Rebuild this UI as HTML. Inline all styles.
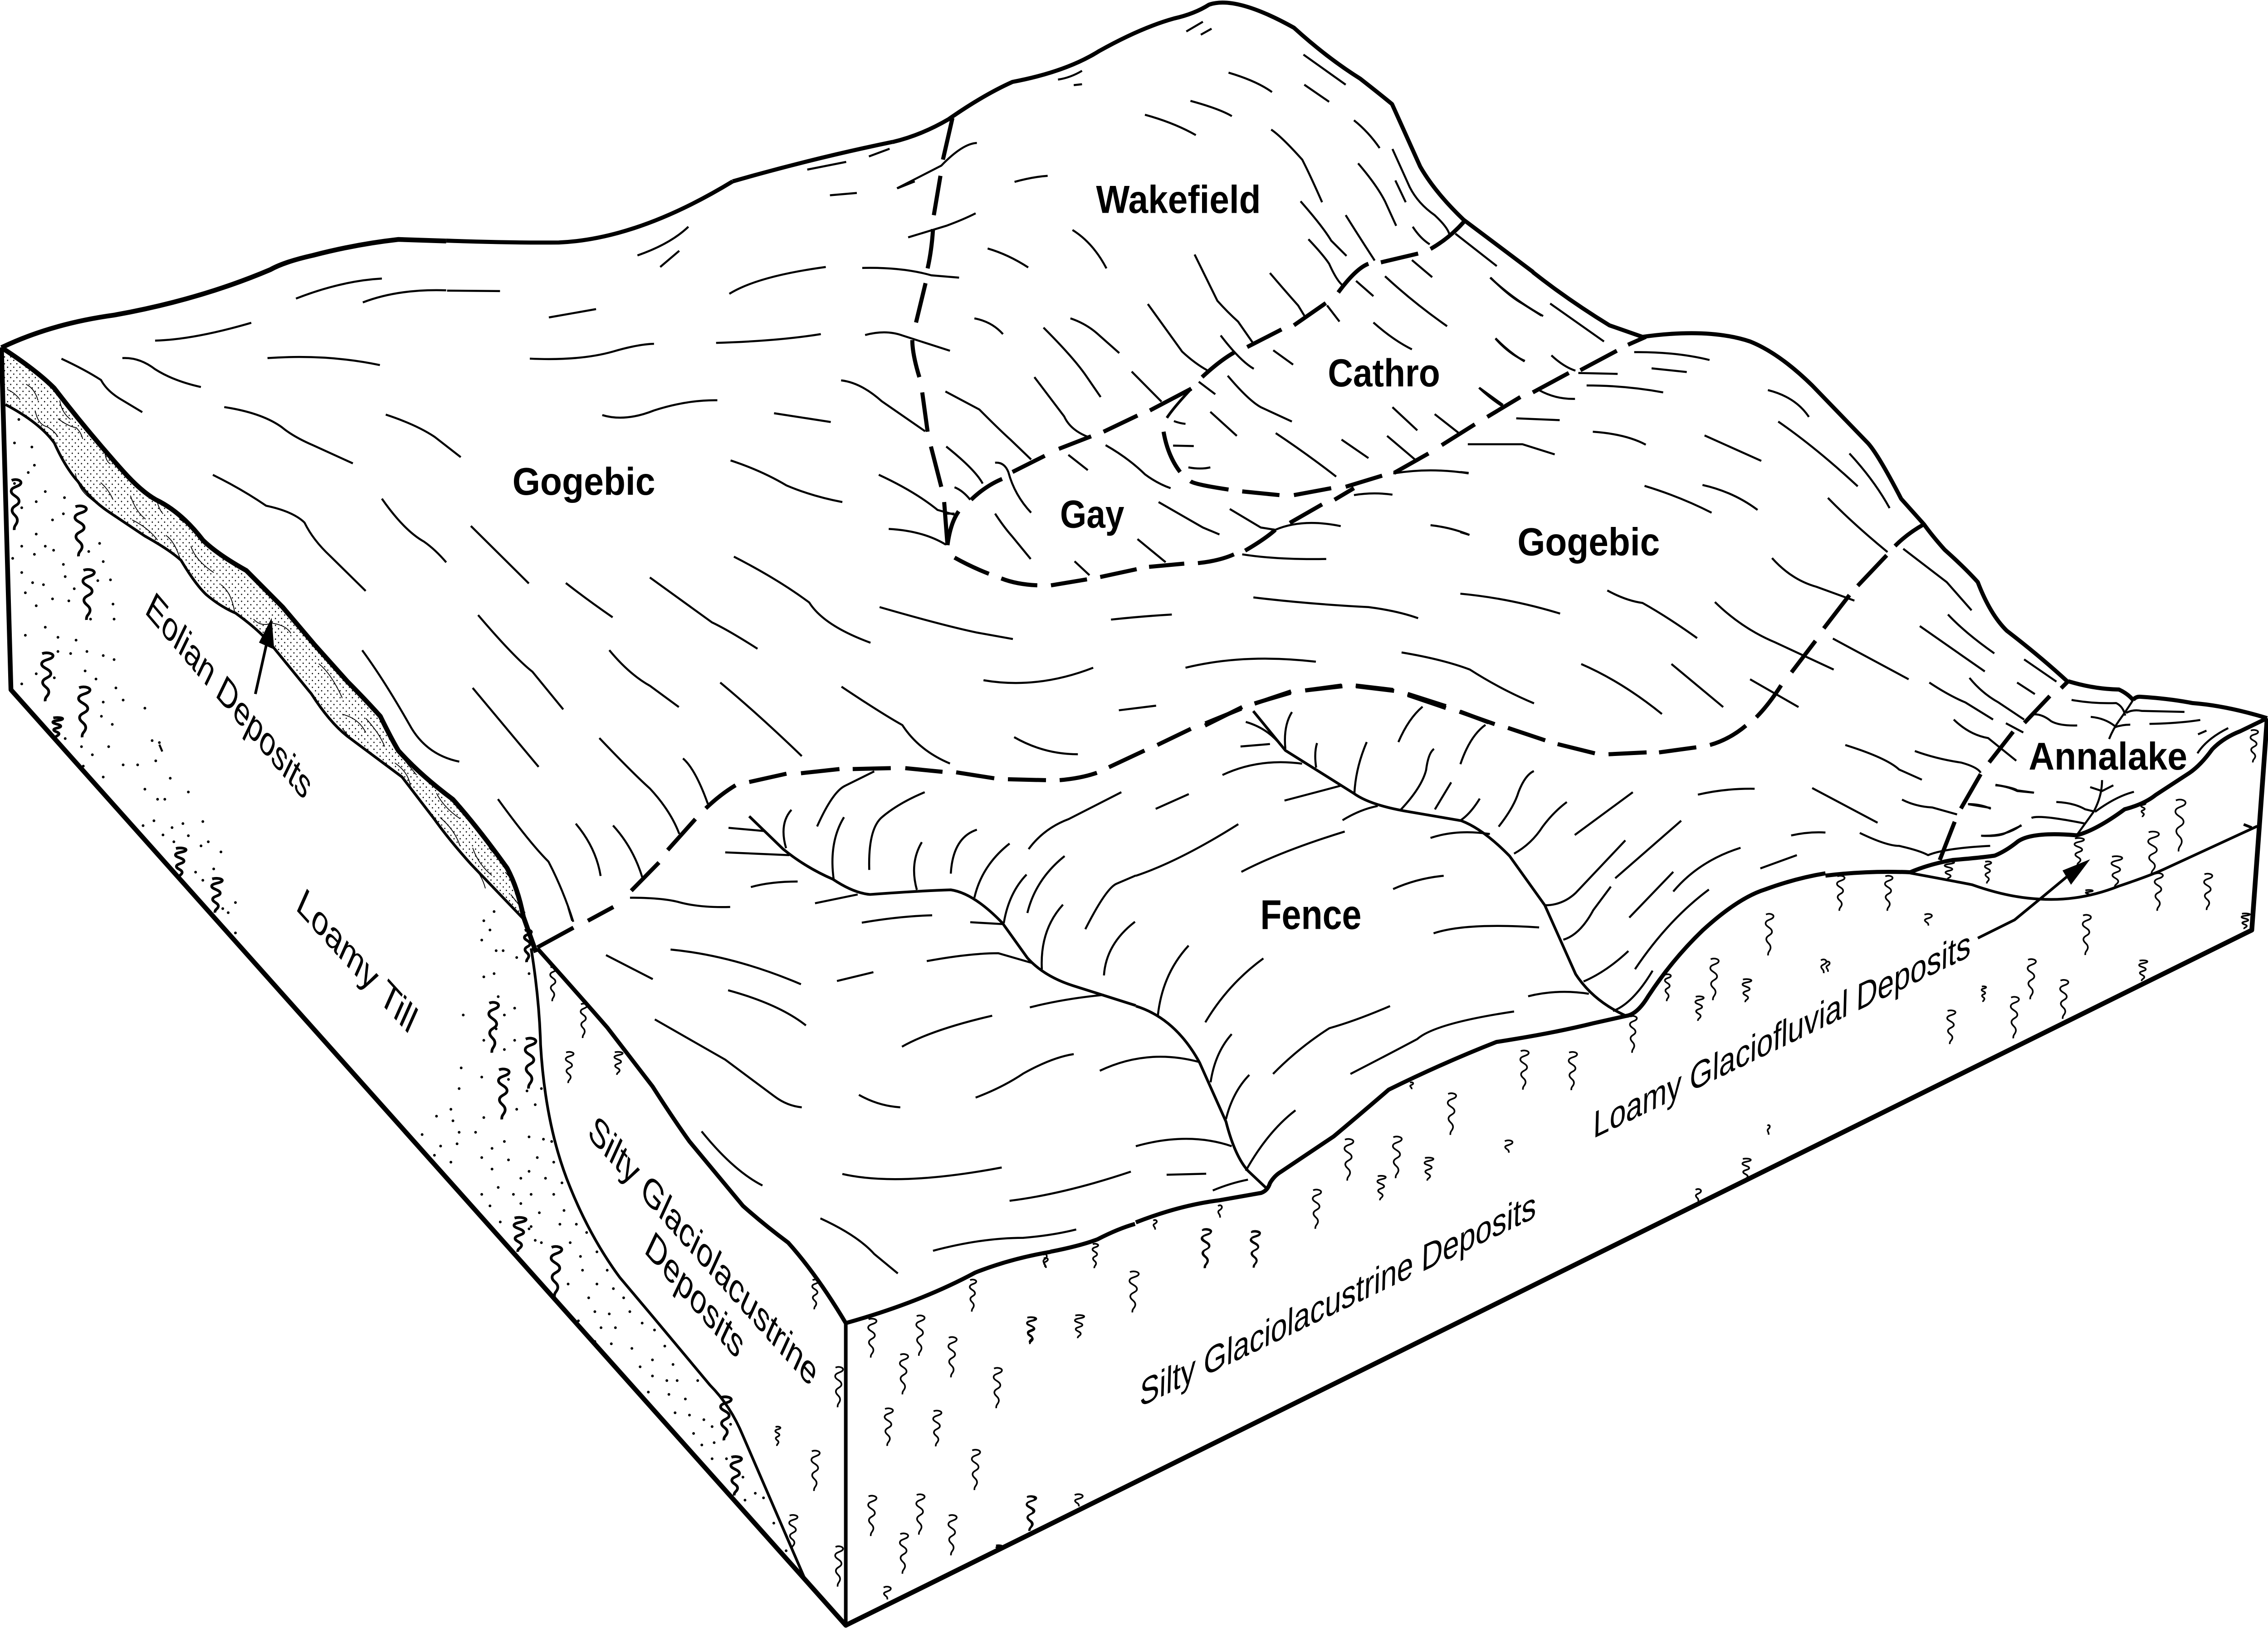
<!DOCTYPE html>
<html><head><meta charset="utf-8"><title>Block diagram</title>
<style>
html,body{margin:0;padding:0;background:#fff;width:100%;height:100%;overflow:hidden}
svg{display:block;width:100vw;height:100vh}
path{fill:none;stroke:#000;stroke-linejoin:round;vector-effect:non-scaling-stroke}
.l{stroke-width:4.5}.o{stroke-width:9}.O{stroke-width:10.5}.v{stroke-width:6}.d{stroke-width:9}.t{stroke-width:1.8}
.s use{stroke-width:3.6}.s{stroke-width:3.6}.S{stroke-width:6}
.p{stroke-width:6;stroke-linecap:round}
.f{fill:#000;stroke:none}
text{font-family:"Liberation Sans",sans-serif;fill:#000}
.b{font-weight:bold;font-size:85px}
.n{font-size:76px}
</style></head><body>
<svg xmlns="http://www.w3.org/2000/svg" viewBox="0 0 5591 3590" preserveAspectRatio="none">
<defs>
<path id="q" d="M6 2C16-2 30 2 27 8 24 15 4 14 5 24 6 32 24 34 23 44 22 52 6 52 7 62 8 70 20 72 19 82 18 90 11 90 12 100"/>
<path id="r" d="M4 2C12-2 24 1 21 6 18 11 3 11 5 16 7 21 14 20 13 28"/>
<pattern id="st" width="17" height="17" patternUnits="userSpaceOnUse"><circle cx="4" cy="4" r="1.7"/><circle cx="12.5" cy="12.5" r="1.7"/></pattern>
</defs>

<!-- block frame in page coordinates -->
<path class="O" d="M3.5 766L27 1521L2085 3584L5551 2051L5589 1584"/>
<path class="o" d="M1806 400Q2000 350 2200 313"/>
<path class="l" d="M1990 374L2086 357M2142 345L2193 328"/>

<!-- Z9 top-left -->
<g transform="translate(0 300) scale(.7015)">
<path class="O" d="M5 665Q180 590 400 563Q700 515 950 420Q1000 395 1100 375Q1250 340 1400 325L1568 330"/>
<path class="l" d="M545 643Q680 640 883 587M216 700Q300 735 355 767Q375 800 420 825L500 868M430 698Q490 695 545 733Q610 770 706 789M940 698Q1150 685 1335 720M1040 511Q1200 455 1342 448M1275 523Q1400 480 1568 485M788 852Q920 870 990 915Q1030 945 1100 972L1240 1029M748 1065Q850 1110 935 1162Q1030 1180 1070 1215Q1100 1270 1160 1320L1285 1430M1342 1140Q1420 1240 1490 1275Q1530 1300 1568 1340"/>
</g>

<!-- Z1 left face and eolian band -->
<g transform="translate(0 700) scale(.8929)">
<path style="fill:url(#st);stroke:none" d="M5 75Q100 130 150 175Q240 280 340 380Q390 430 430 450Q500 480 560 550Q600 585 680 625Q730 670 780 715L870 810L960 900Q1010 945 1050 985Q1080 1040 1100 1070Q1160 1130 1250 1190Q1320 1260 1400 1360Q1430 1410 1445 1480L1450 1490L1300 1350Q1240 1290 1200 1240Q1170 1205 1110 1135L960 1035Q910 1000 860 930L755 815Q720 775 650 730Q610 715 570 685Q540 660 500 600Q470 575 400 540L300 480Q250 450 215 405Q180 370 150 310Q110 260 15 215Z"/>
<path class="O" d="M5 75Q100 130 150 175Q240 280 340 380Q390 430 430 450Q500 480 560 550Q600 585 680 625Q730 670 780 715L870 810L960 900Q1010 945 1050 985Q1080 1040 1100 1070Q1160 1130 1250 1190Q1320 1260 1400 1360Q1430 1410 1445 1480L1480 1568"/>
<path class="v" d="M15 215Q110 260 150 310Q180 370 215 405Q250 450 300 480L400 540Q470 575 500 600Q540 660 570 685Q610 715 650 730Q720 775 755 815L860 930Q910 1000 960 1035L1110 1135Q1170 1205 1200 1240Q1240 1290 1300 1350L1450 1490"/>
<path class="t" d="M20 178Q40 185 55 203M72 165Q95 175 105 205M165 205Q170 235 195 252M97 230Q105 265 130 270Q150 280 160 295M160 250Q190 270 210 272Q225 285 228 300M290 335Q292 355 305 362M208 385Q215 420 240 440L260 455M278 408Q300 425 312 450M360 440Q375 480 402 498M365 500Q410 520 435 550M458 538Q485 555 500 605M435 458Q440 475 450 485M495 498Q515 510 535 520M527 565Q540 600 590 630M610 660Q640 680 648 730M700 745Q720 765 750 755Q790 760 803 780M880 855Q915 880 945 940M945 980Q990 990 1010 1025M1010 990Q1050 1030 1062 1060M945 1015L970 1042M1000 935Q1020 960 1045 975M1090 1100Q1130 1125 1133 1160M1205 1175Q1225 1210 1270 1238M1215 1235Q1255 1265 1270 1305M1305 1310Q1320 1350 1358 1378M1350 1310L1375 1335M1300 1350Q1330 1375 1340 1410M1395 1370L1405 1380M1410 1425L1450 1470M1105 1080L1150 1130"/>
<path class="l" d="M1065 240Q1150 265 1200 295L1272 345M1300 515L1460 657M1320 735Q1420 840 1470 875L1555 968M1000 822Q1060 895 1130 1005Q1175 1080 1268 1097M1305 915L1487 1110"/>
<path class="p" d="M52 252h.01M40 310h.01M88 320h.01M95 365h.01M78 383h.01M40 410h.01M125 430h.01M100 455h.01M178 445h.01M60 470h.01M145 500h.01M175 485h.01M100 535h.01M60 565h.01M125 565h.01M35 595h.01M95 585h.01M148 575h.01M175 610h.01M60 630h.01M120 660h.01M90 655h.01M145 695h.01M70 680h.01M20 670h.01M100 712h.01M190 700h.01M275 558h.01M245 578h.01M285 603h.01M305 648h.01M270 650h.01M180 640h.01M205 670h.01M312 708h.01M315 745h.01M250 745h.01M235 705h.01M125 765h.01M70 785h.01M160 790h.01M210 797h.01M240 825h.01M195 830h.01M160 825h.01M285 835h.01M315 845h.01M60 905h.01M150 890h.01M100 880h.01M235 873h.01M265 893h.01M320 915h.01M285 950h.01M340 945h.01M400 965h.01M280 985h.01M310 1005h.01M180 1040h.01M255 1080h.01M225 1060h.01M300 1060h.01M340 1105h.01M230 1108h.01M380 1105h.01M430 1095h.01M285 1135h.01M400 1165h.01M470 1138h.01M435 1190h.01M455 1190h.01M520 1172h.01M395 1255h.01M425 1243h.01M475 1260h.01M505 1250h.01M560 1245h.01M450 1278h.01M430 1320h.01M480 1295h.01M520 1280h.01M555 1305h.01M575 1295h.01M610 1320h.01M540 1370h.01M590 1362h.01M560 1390h.01M630 1470h.01M615 1460h.01M650 1445h.01M650 1520h.01M420 1045h.01M440 1050h.01"/>
<g class="S" style="stroke-width:6">
<use href="#q" transform="translate(25 400) scale(1.2 1.25)"/><use href="#q" transform="translate(200 465) scale(1.4 1.25)"/><use href="#q" transform="translate(222 622) scale(1.4 1.25)"/><use href="#q" transform="translate(108 828) scale(1.4 1.2)"/><use href="#q" transform="translate(210 912) scale(1.4 1.25)"/><use href="#q" transform="translate(140 988) scale(1.2 .5)"/><use href="#q" transform="translate(478 1310) scale(1.3 .75)"/><use href="#q" transform="translate(578 1385) scale(1.3 .85)"/>
</g>
<path class="l" style="stroke-width:6" d="M705 930L735 810"/>
<path class="f" d="M750 742L715 803L757 820Z"/>
<path class="l" d="M440 1055L448 1072"/>
</g>

<!-- Z3 Gogebic west -->
<g transform="translate(1000 400) scale(1.0204)">
<path class="o" d="M98 128Q250 133 370 132Q560 125 790 0"/>
<path class="l" d="M560 160Q640 135 683 98M615 185L661 150M100 236L228 237M346 294L460 276M300 383Q420 388 500 368Q560 352 600 351M750 349Q900 345 1003 330M782 243Q850 205 1015 185M1025 30L1090 25M1188 15L1230 0M1110 332Q1160 320 1200 333L1315 366M1103 187Q1200 185 1270 203L1337 208M1052 430Q1100 435 1150 475L1255 540M1143 634Q1230 670 1285 710L1325 720M1167 751Q1250 755 1305 785M475 505Q530 520 600 495Q680 472 753 473M890 501L1027 520M785 603Q860 625 920 657Q980 680 1055 693M387 868Q440 905 500 942M590 856L740 953Q780 970 850 1010M793 811Q900 860 975 910Q1010 960 1123 997M1145 920Q1300 960 1380 975L1467 989M492 1013Q540 1065 590 1090L660 1136M760 1083Q850 1150 957 1242M1053 1092Q1150 1150 1200 1175Q1240 1230 1315 1258M468 1203Q550 1280 590 1312Q640 1360 661 1410M670 1247Q700 1270 730 1345M411 1388Q460 1440 471 1501M501 1392Q550 1440 572 1505M223 1335Q300 1430 345 1470Q380 1530 405 1600"/>
<path class="d" d="M545 1533L612 1472M633 1445L700 1378M725 1355Q760 1325 797 1305M830 1298L920 1280M955 1279L1048 1270M1080 1270L1172 1268"/>
<text class="b" transform="translate(258 677) scale(.98)" textLength="352" lengthAdjust="spacingAndGlyphs">Gogebic</text>
</g>

<!-- Z4 Wakefield Cathro Gay -->
<g transform="translate(2200 0) scale(1.0204)">
<path class="o" d="M0 307Q70 292 135 258Q220 205 290 177Q420 155 500 110Q600 60 680 40Q730 30 765 10Q830-10 970 60Q1050 125 1130 170Q1180 205 1207 225L1275 360Q1310 415 1380 475L1548 588"/>
<path class="d" d="M145 255L122 345M116 380L100 465M98 495Q95 540 85 580M80 612L57 697M48 735Q48 765 65 815M72 848L85 933M93 965L118 1052M125 1085L133 1178M160 1105Q140 1130 133 1178M190 1080Q225 1050 265 1035M290 1020L368 985M402 970L480 943M510 933L592 898M622 887L722 840M748 815Q790 780 825 762M857 750L940 712M970 703L1047 655M1077 632Q1120 580 1150 570M1180 567L1270 548M1300 538Q1345 515 1380 480M655 933Q665 985 695 1020M720 1040Q730 1047 812 1058M845 1062L935 1070M970 1070L1060 1055M150 1205Q190 1225 233 1240M263 1250Q300 1263 350 1265M383 1265L470 1252M502 1247L590 1230M620 1225L705 1218M738 1217Q790 1212 825 1198M852 1190Q900 1165 925 1145M960 1130L1038 1090M1068 1080L1115 1055M1095 1052L1183 1028M1212 1022L1295 980M1327 962L1407 917M755 1568L845 1528M875 1520L962 1497M998 1492L1087 1483M1120 1483L1212 1493M1245 1502L1337 1530M1370 1538L1455 1565"/>
<path class="v" d="M722 840Q680 880 663 903"/>
<path class="l" d="M710 68L750 47M745 75L771 62M400 172Q430 168 458 153M438 184L458 182M812 157Q880 175 917 199M720 218Q790 235 820 251M610 248Q680 265 733 292M993 118L1095 183M995 183L1055 220M1115 260Q1150 285 1177 320M1208 322L1250 405Q1270 440 1310 465Q1340 490 1345 505M1125 353Q1170 400 1190 435L1217 488M1215 390L1240 437M1257 490Q1275 515 1298 528M915 280Q940 295 990 345Q1010 380 1038 437M986 435Q1040 490 1060 520L1097 553M1095 465Q1130 515 1165 563M1005 517Q1040 550 1055 570Q1075 610 1090 618M912 590Q950 630 980 660L997 685M730 550L785 650Q810 675 835 695L870 740M617 657L700 760Q730 785 760 800M11 407L118 358Q170 310 204 309M295 393Q340 382 375 380M38 513L130 488Q170 475 201 461M230 537Q280 550 328 578M435 497Q485 525 517 580M198 688Q240 695 267 722M430 688Q470 700 500 725L548 763M365 708Q440 775 470 815L503 858M343 815L415 900Q430 930 475 945M515 962Q570 990 610 1025Q640 1045 672 1055M128 846L210 885Q260 930 285 950L335 993M130 965Q200 1015 218 1045M248 1000Q270 998 280 1020Q295 1070 335 1108M150 1053Q170 1060 188 1080M248 1110Q270 1140 290 1160L334 1208M425 983L472 1016M578 803L650 868M740 825L780 852M793 725Q840 780 873 797M920 757L968 788M810 812Q860 865 890 880L965 911M768 890L832 942M926 936Q1000 980 1072 1030M1050 660L1080 695M1162 697Q1210 735 1255 755M1120 607L1162 640M1190 597Q1260 655 1340 705M1255 562L1304 599M1360 505L1460 575M1445 600Q1490 640 1520 655L1568 682M1457 732Q1490 765 1528 780M1418 838L1475 875M1208 880L1268 930M1310 895L1367 935M1085 950L1150 990M1195 942L1265 995M678 963L728 964M680 910Q695 915 708 916M715 1010Q745 1015 768 1010M643 1085L750 1140L790 1155M815 1100L890 1140L925 1145M592 1165L660 1215M440 1213L476 1243M925 1145Q990 1120 1083 1137M845 1198Q930 1210 1048 1208M1210 1023Q1300 1010 1392 1023M1115 1070Q1160 1063 1208 1069M1300 1135Q1350 1140 1394 1156M528 1339Q600 1332 675 1328M872 1291Q1000 1305 1150 1312Q1220 1320 1270 1336M220 1470Q350 1490 485 1443M708 1443Q850 1412 1023 1430M1230 1410Q1330 1425 1395 1447Q1470 1490 1550 1520M547 1535L637 1525M150 1110L125 1110"/>
<text class="b" x="492" y="460" textLength="398" lengthAdjust="spacingAndGlyphs">Wakefield</text>
<text class="b" x="1052" y="835" textLength="271" lengthAdjust="spacingAndGlyphs">Cathro</text>
<text class="b" x="405" y="1140" textLength="155" lengthAdjust="spacingAndGlyphs">Gay</text>
</g>

<!-- Z5 Gogebic east -->
<g transform="translate(3600 600) scale(1.0204)">
<path class="o" d="M175 0Q260 60 360 115L440 140Q600 120 700 150Q770 175 850 245L985 370Q1010 395 1065 490Q1100 525 1120 545Q1140 570 1170 600Q1220 640 1250 670Q1280 740 1320 775Q1400 830 1467 885"/>
<path class="d" d="M65 313L145 270M175 260L262 218M290 212L378 170M405 157L448 140M0 950L68 973M115 985L205 1012M235 1020L325 1040M358 1042L450 1038M480 1038L570 1027M603 1022Q650 1010 690 980M715 962Q745 935 775 893M800 865L858 797M878 770L940 698M960 678L1030 612M1050 592Q1080 565 1120 545"/>
<path class="l" d="M72 12Q130 60 200 95M217 68L347 150M85 143Q120 175 155 193M220 180Q250 205 278 213M45 250Q75 275 102 290M420 173Q520 172 602 190M462 208L547 216M285 218L380 220M305 245Q400 245 490 260M190 255Q230 275 277 274M135 316L240 320M320 345Q400 350 448 373M18 372L150 372L228 394M0 432L20 434M0 562L22 568M743 255Q810 270 842 313M768 323Q860 380 960 463M590 353L727 408M940 392Q1000 450 1037 510M445 462Q530 485 607 520M585 460Q660 475 718 514M888 488Q950 545 1032 605M753 618Q800 665 860 680L952 710M355 688Q400 710 440 715Q500 745 572 791M615 713Q680 770 760 800L902 859M292 847Q390 885 487 955M510 847L635 940M700 880L817 940M0 695Q120 705 241 738M1070 598L1175 670L1235 731M1178 740Q1220 780 1290 824M1110 765L1230 840L1267 863M900 792L1083 880M1133 887Q1180 915 1220 930L1287 967M1230 877Q1260 910 1300 930L1362 967M1362 837L1440 885M1345 887L1388 912M1192 967Q1230 1000 1275 1007L1343 1056M1318 975L1360 995M930 1022Q1030 1050 1060 1075L1115 1097M1098 1035Q1150 1052 1210 1060Q1250 1070 1257 1082M1067 1140Q1100 1155 1140 1157L1200 1172M850 1115L1008 1190M1227 1150L1281 1158M1293 1108Q1340 1115 1345 1120L1386 1125M965 1212Q1030 1240 1060 1240Q1110 1250 1130 1260Q1170 1245 1280 1240M1258 1218Q1320 1220 1355 1195"/>
<text class="b" x="138" y="612" textLength="344" lengthAdjust="spacingAndGlyphs">Gogebic</text>
</g>

<!-- Z6 Fence west -->
<g transform="translate(1400 1500) scale(1.0204)">
<path class="o" d="M1166 1235Q1240 1222 1280 1208Q1330 1185 1370 1175"/>
<path class="v" d="M438 294L520 365Q575 405 640 430Q690 460 730 463Q850 455 925 453Q980 460 1050 525L1110 600Q1150 640 1220 660L1372 703"/>
<path class="d" d="M815 190L905 198M938 199L1030 212M1063 214L1155 216M1188 216Q1240 212 1278 200M1307 188L1393 152M1424 140L1505 105"/>
<path class="l" d="M1078 123Q1150 160 1232 160M388 319L475 326M380 372L535 378M527 363Q510 310 540 280M602 316Q640 240 670 228L740 197M642 430Q630 350 667 296M728 410Q725 320 760 295Q800 265 862 242M843 453Q825 395 855 350M925 418Q930 340 988 323M982 470Q1000 400 1067 353M1053 525Q1065 460 1108 420M1110 503Q1130 430 1200 380M1145 625Q1140 540 1196 485M1113 365Q1150 320 1210 300L1337 242M1420 278L1500 246M1250 538Q1300 450 1325 440L1372 422M1295 638Q1300 570 1370 522M150 470Q230 470 270 480Q320 492 392 490M442 447Q490 435 555 435M597 482L700 463M710 524Q800 510 880 508M972 523L1050 527M867 607Q970 590 1040 590L1125 612M92 594L205 646M248 582Q400 595 563 657M650 650L738 631M387 670Q510 700 575 746M210 733L380 820Q440 860 500 900Q530 920 565 923M703 896Q750 920 803 923M807 792Q880 755 1025 725M1116 707Q1200 688 1295 680M985 902Q1050 880 1100 850Q1170 815 1222 808M1285 844Q1400 795 1525 825M323 975Q400 1060 470 1092M663 1067Q800 1095 1048 1053M1067 1125Q1200 1110 1360 1062M610 1163Q700 1200 740 1240L797 1282M882 1233Q1000 1205 1100 1205Q1170 1200 1228 1187"/>
</g>

<!-- Z7 Fence east -->
<g transform="translate(2800 1400) scale(1.0842)">
<path class="o" d="M0 1195Q100 1160 190 1150L285 1135Q300 1130 305 1115Q315 1100 330 1092L450 1020Q510 975 575 925Q700 870 820 828Q950 810 1040 790L1115 775Q1140 772 1165 735Q1220 660 1290 600Q1370 535 1430 518Q1500 495 1568 485"/>
<path class="v" d="M0 755Q90 780 145 870L205 990Q225 1060 255 1090L300 1128M267 155L340 235L495 322Q530 345 610 358L740 378Q790 395 850 450L930 550L1000 690Q1040 745 1115 775"/>
<path class="d" d="M158 180L240 150M270 140L353 115M385 113L468 103M500 103L585 112M618 120L705 145"/>
<path class="l" d="M0 1040Q120 1010 218 1040M70 1098L160 1096M50 775Q60 690 120 632M158 788Q210 710 290 658M170 910Q180 850 218 812M205 985Q220 930 258 895M250 1090Q300 1010 363 967M312 893Q370 840 440 800Q500 785 578 755M488 893Q560 860 640 822Q680 790 860 766M175 1130Q215 1115 255 1108M0 490Q100 460 233 385M240 482Q330 440 475 400M585 517Q640 495 700 490M677 607Q750 585 917 595M670 413Q730 395 805 405M470 377Q510 355 550 348M338 337L465 307M197 285Q280 250 378 262M238 227L305 222M250 177Q300 190 330 225M340 232Q335 185 355 157M410 270Q405 240 412 220M497 322Q500 270 525 218M603 355Q650 310 660 275Q665 240 678 232M597 218Q620 170 652 146M680 355L717 300M738 263Q760 205 795 183M737 378Q760 365 782 333M860 445Q900 425 925 390Q950 360 980 340M998 407L1130 320M825 390Q860 350 870 320Q885 285 905 277M930 550Q970 550 1000 525L1113 418M972 620Q1010 610 1040 560L1080 512M1090 495L1240 378M1122 575L1222 482M1222 522Q1280 460 1375 433M1018 705Q1070 685 1120 643M1135 680Q1210 580 1303 518M1085 765Q1130 750 1175 683M892 735Q960 720 1030 730M1278 325Q1340 312 1407 313M1490 408Q1530 400 1568 402M1420 475L1503 448"/>
<g class="s">
<use href="#q" transform="translate(147 1208) scale(.9 .8)"/><use href="#q" transform="translate(258 1212) scale(.9 .75)"/><use href="#q" transform="translate(398 1128) scale(.85 .8)"/><use href="#q" transform="translate(470 1025) scale(.9 .85)"/><use href="#q" transform="translate(545 1100) scale(.85 .5)"/><use href="#q" transform="translate(580 1020) scale(.9 .85)"/><use href="#q" transform="translate(652 1063) scale(.9 .47)"/><use href="#q" transform="translate(705 932) scale(.85 .85)"/><use href="#q" transform="translate(870 845) scale(.85 .8)"/><use href="#q" transform="translate(980 848) scale(.85 .78)"/><use href="#q" transform="translate(1120 775) scale(.7 .75)"/><use href="#q" transform="translate(1200 690) scale(.6 .55)"/><use href="#q" transform="translate(1268 735) scale(.85 .5)"/><use href="#q" transform="translate(1302 658) scale(.85 .85)"/><use href="#q" transform="translate(1375 700) scale(.9 .47)"/><use href="#q" transform="translate(1428 567) scale(.8 .85)"/><use href="#r" transform="translate(1555 660) scale(.7 1)"/><use href="#r" transform="translate(835 1028) scale(1 .9)"/><use href="#q" transform="translate(1375 1065) scale(.85 .45)"/><use href="#r" transform="translate(1270 1127) scale(.7 .9)"/><use href="#r" transform="translate(1435 997) scale(.3 .7)"/><use href="#r" transform="translate(185 1160) scale(.5 .9)"/><use href="#r" transform="translate(38 1190) scale(.45 .7)"/><use href="#r" transform="translate(622 910) scale(.4 .5)"/>
</g>
<text class="b" x="283" y="598" textLength="230" lengthAdjust="spacingAndGlyphs">Fence</text>
</g>

<!-- Z8 side face -->
<g transform="translate(1000 2000) scale(1.014)">
<path class="o" d="M320 90Q420 190 490 262L600 390Q650 460 690 510L820 650Q870 690 930 730Q1000 800 1070 905Q1250 860 1385 795Q1470 765 1568 750"/>
<path class="O" style="stroke-width:8" d="M1070 905L1070 1560"/>
<path class="v" d="M305 90Q325 200 328 300Q340 480 400 610Q450 720 520 805L600 890L740 1040Q790 1085 820 1150L970 1460"/>
<path class="d" d="M320 88L408 45M443 30L505 0"/>
<path class="l" d="M395 0L405 30"/>
<path class="p" d="M215 10h.01M190 30h.01M205 50h.01M185 72h.01M220 95h.01M237 95h.01M270 110h.01M300 145h.01M190 152h.01M215 145h.01M225 195h.01M265 220h.01M140 235h.01M240 235h.01M220 265h.01M190 290h.01M265 290h.01M240 310h.01M135 350h.01M185 370h.01M250 375h.01M130 395h.01M295 400h.01M330 395h.01M315 430h.01M110 440h.01M270 440h.01M190 458h.01M75 455h.01M115 465h.01M130 490h.01M170 490h.01M40 495h.01M85 520h.01M125 515h.01M210 525h.01M240 510h.01M300 500h.01M335 505h.01M70 540h.01M110 555h.01M185 545h.01M250 550h.01M320 545h.01M360 555h.01M300 575h.01M210 570h.01M280 590h.01M340 590h.01M380 600h.01M225 610h.01M185 625h.01M262 625h.01M305 625h.01M360 625h.01M280 645h.01M205 650h.01M325 665h.01M385 660h.01M230 685h.01M305 695h.01M375 690h.01M415 690h.01M440 708h.01M330 730h.01M400 730h.01M425 760h.01M465 750h.01M490 790h.01M300 700h.01M315 725h.01M430 790h.01M395 820h.01M465 820h.01M505 830h.01M445 850h.01M530 850h.01M420 900h.01M460 880h.01M495 885h.01M545 880h.01M510 915h.01M475 915h.01M575 905h.01M460 945h.01M500 950h.01M550 960h.01M605 920h.01M630 955h.01M600 985h.01M650 995h.01M570 1000h.01M600 1020h.01M635 1030h.01M660 1030h.01M590 1055h.01M640 1060h.01M680 1070h.01M710 1030h.01M655 1100h.01M690 1105h.01M725 1115h.01M700 1145h.01M745 1130h.01M720 1170h.01M790 1125h.01M750 1165h.01M745 1200h.01M780 1200h.01M820 1240h.01M850 1275h.01M825 1290h.01M870 1285h.01M895 1340h.01M925 1400h.01M355 510h.01"/>
<g class="s">
<use href="#q" transform="translate(1120 895) scale(.9 .85)"/><use href="#q" transform="translate(1237 888) scale(.9 .88)"/><use href="#q" transform="translate(1315 935) scale(.9 .88)"/><use href="#q" transform="translate(1197 972) scale(.9 .88)"/><use href="#q" transform="translate(1506 892) scale(.9 .55)"/><use href="#q" transform="translate(1425 1002) scale(.9 .88)"/><use href="#q" transform="translate(1160 1090) scale(.9 .82)"/><use href="#q" transform="translate(1278 1095) scale(.9 .78)"/><use href="#q" transform="translate(1372 1180) scale(.9 .88)"/><use href="#q" transform="translate(1120 1280) scale(.9 .88)"/><use href="#q" transform="translate(1237 1277) scale(.9 .88)"/><use href="#q" transform="translate(1315 1322) scale(.9 .88)"/><use href="#q" transform="translate(1197 1362) scale(.9 .88)"/><use href="#q" transform="translate(1505 1282) scale(.9 .75)"/><use href="#r" transform="translate(1158 1478) scale(1 1)"/><use href="#r" transform="translate(1432 1388) scale(.8 .3)"/><use href="#q" transform="translate(1368 810) scale(.7 .7)"/><use href="#r" transform="translate(1548 755) scale(.5 1)"/><use href="#q" transform="translate(1040 1000) scale(.85 .88)"/><use href="#q" transform="translate(982 1182) scale(.9 .88)"/><use href="#q" transform="translate(1040 1390) scale(.85 .88)"/><use href="#q" transform="translate(896 1130) scale(.55 .42)"/><use href="#q" transform="translate(928 1322) scale(.9 .75)"/><use href="#q" transform="translate(385 315) scale(.85 .68)"/><use href="#q" transform="translate(503 315) scale(.9 .5)"/><use href="#q" transform="translate(422 210) scale(.7 .75)"/><use href="#q" transform="translate(348 130) scale(.7 .75)"/><use href="#q" transform="translate(985 810) scale(.7 .65)"/>
</g>
<g style="stroke-width:6">
<use href="#q" transform="translate(197 207) scale(1.05 1.1)"/><use href="#q" transform="translate(285 285) scale(1.15 1.1)"/><use href="#q" transform="translate(220 352) scale(1.15 1.1)"/><use href="#q" transform="translate(257 675) scale(1.3 .75)"/><use href="#q" transform="translate(348 738) scale(1.15 1.1)"/><use href="#q" transform="translate(760 1065) scale(1.15 .95)"/><use href="#q" transform="translate(785 1195) scale(1.15 .85)"/><use href="#q" transform="translate(285 50) scale(.75 .7)"/>
</g>
</g>

<!-- Z10 front face -->
<g transform="translate(2500 2700) scale(.5676)" class="s">
<use href="#q" transform="translate(335 75) scale(1.1 .95)"/><use href="#r" transform="translate(125 130) scale(1 1.4)"/><use href="#q" transform="translate(805 20) scale(1.8 1.5)"/><use href="#q" transform="translate(1018 28) scale(1.8 1.4)"/><use href="#q" transform="translate(492 182) scale(1.8 1.6)"/><use href="#q" transform="translate(47 360) scale(1.8 1.05)"/><use href="#q" transform="translate(255 352) scale(1.8 .9)"/><use href="#q" transform="translate(47 1055) scale(1.8 1.35)"/><use href="#r" transform="translate(255 1048) scale(2 1.7)"/>
</g>

<!-- Z2 Annalake corner (non-uniform scale) -->
<g transform="translate(4500 1400) scale(.6958 .574)">
<path class="o" d="M860 178Q950 208 1040 210Q1070 225 1090 250M1090 250Q1100 235 1120 238Q1220 245 1300 262Q1420 272 1565 320"/>
<path class="o" d="M0 925Q150 905 300 912Q370 880 450 865Q560 855 600 848Q640 830 680 795Q730 755 890 770Q960 750 1060 670Q1130 650 1170 615L1290 530Q1330 500 1370 440Q1410 395 1470 370L1565 320"/>
<path class="v" d="M300 915Q450 945 520 960Q650 1010 760 1015Q900 1025 1040 965Q1150 925 1200 900L1530 735"/>
<path class="d" d="M860 178L835 205M795 235L705 338M665 372L580 490M550 535L480 667M458 718L405 865"/>
<path class="v" d="M540 1165L670 1095L760 1015L860 925"/>
<path class="f" d="M938 862L840 905L870 960Z"/>
<path class="l" d="M872 250Q950 265 1030 262Q1055 275 1062 310M740 305Q770 305 800 332Q830 350 892 348M940 315Q990 320 1025 350M1090 250Q1070 285 1040 330Q1020 360 1005 400M1065 300Q1090 285 1120 292L1272 296M1025 355Q1050 345 1080 345M1148 342Q1250 340 1328 327M1320 382L1350 368M1318 455Q1350 400 1427 358M980 558Q980 620 950 680L890 770M938 585L980 600L1020 578M818 642Q880 645 920 670L950 678M955 680Q1030 620 1093 603M730 703Q760 690 920 725M602 578Q640 580 680 600L737 606M505 650Q550 650 586 668M555 772Q620 775 640 760L695 732"/>
<g class="s">
<use href="#q" transform="translate(35 925) scale(1.2 1.35)"/><use href="#q" transform="translate(205 925) scale(1.2 1.35)"/><use href="#r" transform="translate(345 1072) scale(1.5 1.6)"/><use href="#q" transform="translate(415 870) scale(1.5 .7)"/><use href="#q" transform="translate(560 870) scale(1 .85)"/><use href="#q" transform="translate(875 780) scale(1.5 1.05)"/><use href="#q" transform="translate(1115 645) scale(.7 .55)"/><use href="#q" transform="translate(1232 632) scale(1.6 2)"/><use href="#q" transform="translate(1135 755) scale(1.7 1.65)"/><use href="#q" transform="translate(1005 850) scale(1.7 1.2)"/><use href="#q" transform="translate(1335 917) scale(1.3 1.4)"/><use href="#q" transform="translate(1160 915) scale(1.3 1.45)"/><use href="#q" transform="translate(905 1075) scale(1.3 1.55)"/><use href="#q" transform="translate(710 1245) scale(1.3 1.55)"/><use href="#q" transform="translate(825 1325) scale(1.3 1.5)"/><use href="#q" transform="translate(650 1390) scale(1.3 1.6)"/><use href="#q" transform="translate(425 1442) scale(1.3 1.3)"/><use href="#q" transform="translate(1468 1070) scale(1.3 .6)"/><use href="#q" transform="translate(1105 1250) scale(1.3 .8)"/><use href="#q" transform="translate(550 1350) scale(.7 .6)"/><use href="#q" transform="translate(1500 365) scale(1.2 1.25)"/><use href="#r" transform="translate(915 980) scale(1.5 .7)"/><use href="#r" transform="translate(0 1255) scale(.7 1.4)"/>
</g>
</g>
<path class="S" d="M5551 1825L5531 1818"/>
<text class="b" x="5001" y="1697" textLength="391" lengthAdjust="spacingAndGlyphs">Annalake</text>

<!-- slanted labels -->
<text class="n" transform="translate(355 1350) rotate(46.5) skewX(18)" textLength="574" lengthAdjust="spacingAndGlyphs">Eolian Deposits</text>
<text class="n" transform="translate(727 2004) rotate(44.6) skewX(18)" textLength="396" lengthAdjust="spacingAndGlyphs">Loamy Till</text>
<text class="n" transform="translate(1446 2504) rotate(45.2) skewX(18)" textLength="784" lengthAdjust="spacingAndGlyphs">Silty Glaciolacustrine</text>
<text class="n" transform="translate(1586 2760) rotate(46) skewX(18)" textLength="332" lengthAdjust="spacingAndGlyphs">Deposits</text>
<text class="n" transform="translate(2809 3103) rotate(-23.2) skewX(-25)" textLength="1063" lengthAdjust="spacingAndGlyphs">Silty Glaciolacustrine Deposits</text>
<text class="n" transform="translate(3927 2511) rotate(-23.4) skewX(-25)" textLength="1014" lengthAdjust="spacingAndGlyphs">Loamy Glaciofluvial Deposits</text>
</svg>
</body></html>
